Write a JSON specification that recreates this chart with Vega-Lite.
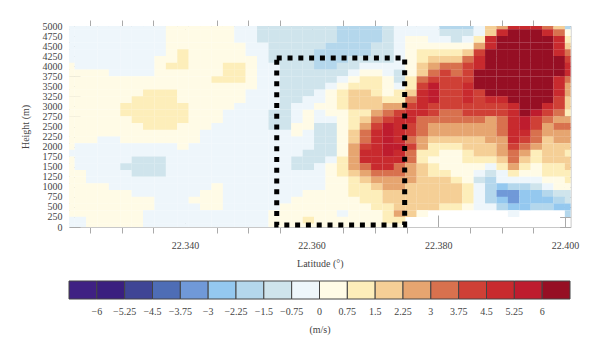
{"$schema":"https://vega.github.io/schema/vega-lite/v6.json","width":501.6,"height":201,"padding":{"left":69,"top":26,"right":29.4,"bottom":127},"autosize":"none",
"config":{"font":"Liberation Serif","view":{"stroke":null},"axis":{"labelFont":"Liberation Serif","titleFont":"Liberation Serif","labelFontSize":10,"titleFontSize":10,"labelColor":"#444","titleColor":"#444","titleFontWeight":"normal","domainColor":"#c8c8c8","tickColor":"#aaa","grid":false,"zindex":1}},
"layer":[
{"data":{"values":[
{"x":22.3217,"y":5000,"v":-0.4},{"x":22.3235,"y":5000,"v":-0.4},{"x":22.3253,"y":5000,"v":-0.4},{"x":22.3271,"y":5000,"v":-0.4},{"x":22.3289,"y":5000,"v":-0.4},{"x":22.3307,"y":5000,"v":-0.4},{"x":22.3325,"y":5000,"v":-0.4},{"x":22.3343,"y":5000,"v":-0.4},{"x":22.3361,"y":5000,"v":-0.4},{"x":22.3379,"y":5000,"v":0.4},{"x":22.3397,"y":5000,"v":0.4},{"x":22.3415,"y":5000,"v":0.4},{"x":22.3433,"y":5000,"v":0.4},{"x":22.3451,"y":5000,"v":0.4},{"x":22.3469,"y":5000,"v":0.4},{"x":22.3487,"y":5000,"v":-0.4},{"x":22.3505,"y":5000,"v":-0.4},{"x":22.3523,"y":5000,"v":-1.1},{"x":22.3541,"y":5000,"v":-1.1},{"x":22.3559,"y":5000,"v":-1.1},{"x":22.3577,"y":5000,"v":-1.1},{"x":22.3595,"y":5000,"v":-1.1},{"x":22.3613,"y":5000,"v":-1.1},{"x":22.3631,"y":5000,"v":-1.1},{"x":22.3649,"y":5000,"v":-1.9},{"x":22.3667,"y":5000,"v":-1.9},{"x":22.3685,"y":5000,"v":-1.9},{"x":22.3703,"y":5000,"v":-1.9},{"x":22.3721,"y":5000,"v":-1.1},{"x":22.3739,"y":5000,"v":-0.4},{"x":22.3757,"y":5000,"v":-0.4},{"x":22.3775,"y":5000,"v":-0.4},{"x":22.3793,"y":5000,"v":-0.4},{"x":22.3811,"y":5000,"v":-1.9},{"x":22.3829,"y":5000,"v":-1.9},{"x":22.3847,"y":5000,"v":-1.9},{"x":22.3865,"y":5000,"v":-0.4},{"x":22.3883,"y":5000,"v":1.9},{"x":22.3901,"y":5000,"v":2.6},{"x":22.3919,"y":5000,"v":4.9},{"x":22.3937,"y":5000,"v":4.9},{"x":22.3955,"y":5000,"v":4.9},{"x":22.3973,"y":5000,"v":3.4},{"x":22.3991,"y":5000,"v":1.9},{"x":22.4009,"y":5000,"v":-1.9},
{"x":22.3217,"y":4833,"v":-0.4},{"x":22.3235,"y":4833,"v":-0.4},{"x":22.3253,"y":4833,"v":-0.4},{"x":22.3271,"y":4833,"v":-0.4},{"x":22.3289,"y":4833,"v":-0.4},{"x":22.3307,"y":4833,"v":-0.4},{"x":22.3325,"y":4833,"v":-0.4},{"x":22.3343,"y":4833,"v":-0.4},{"x":22.3361,"y":4833,"v":-0.4},{"x":22.3379,"y":4833,"v":0.4},{"x":22.3397,"y":4833,"v":0.4},{"x":22.3415,"y":4833,"v":0.4},{"x":22.3433,"y":4833,"v":0.4},{"x":22.3451,"y":4833,"v":0.4},{"x":22.3469,"y":4833,"v":0.4},{"x":22.3487,"y":4833,"v":-0.4},{"x":22.3505,"y":4833,"v":-0.4},{"x":22.3523,"y":4833,"v":-1.1},{"x":22.3541,"y":4833,"v":-1.1},{"x":22.3559,"y":4833,"v":-1.1},{"x":22.3577,"y":4833,"v":-1.1},{"x":22.3595,"y":4833,"v":-1.1},{"x":22.3613,"y":4833,"v":-1.1},{"x":22.3631,"y":4833,"v":-1.1},{"x":22.3649,"y":4833,"v":-1.9},{"x":22.3667,"y":4833,"v":-1.9},{"x":22.3685,"y":4833,"v":-1.9},{"x":22.3703,"y":4833,"v":-1.9},{"x":22.3721,"y":4833,"v":-1.1},{"x":22.3739,"y":4833,"v":-0.4},{"x":22.3757,"y":4833,"v":-0.4},{"x":22.3775,"y":4833,"v":-0.4},{"x":22.3793,"y":4833,"v":-0.4},{"x":22.3811,"y":4833,"v":-1.1},{"x":22.3829,"y":4833,"v":-1.1},{"x":22.3847,"y":4833,"v":-1.1},{"x":22.3865,"y":4833,"v":-0.4},{"x":22.3883,"y":4833,"v":1.9},{"x":22.3901,"y":4833,"v":4.9},{"x":22.3919,"y":4833,"v":6.5},{"x":22.3937,"y":4833,"v":6.5},{"x":22.3955,"y":4833,"v":6.5},{"x":22.3973,"y":4833,"v":4.9},{"x":22.3991,"y":4833,"v":3.4},{"x":22.4009,"y":4833,"v":0.4},
{"x":22.3217,"y":4667,"v":-0.4},{"x":22.3235,"y":4667,"v":-0.4},{"x":22.3253,"y":4667,"v":-0.4},{"x":22.3271,"y":4667,"v":-0.4},{"x":22.3289,"y":4667,"v":-0.4},{"x":22.3307,"y":4667,"v":-0.4},{"x":22.3325,"y":4667,"v":-0.4},{"x":22.3343,"y":4667,"v":-0.4},{"x":22.3361,"y":4667,"v":-0.4},{"x":22.3379,"y":4667,"v":0.4},{"x":22.3397,"y":4667,"v":0.4},{"x":22.3415,"y":4667,"v":0.4},{"x":22.3433,"y":4667,"v":0.4},{"x":22.3451,"y":4667,"v":0.4},{"x":22.3469,"y":4667,"v":0.4},{"x":22.3487,"y":4667,"v":-0.4},{"x":22.3505,"y":4667,"v":-0.4},{"x":22.3523,"y":4667,"v":-1.1},{"x":22.3541,"y":4667,"v":-1.1},{"x":22.3559,"y":4667,"v":-1.1},{"x":22.3577,"y":4667,"v":-1.1},{"x":22.3595,"y":4667,"v":-1.1},{"x":22.3613,"y":4667,"v":-1.1},{"x":22.3631,"y":4667,"v":-1.1},{"x":22.3649,"y":4667,"v":-1.9},{"x":22.3667,"y":4667,"v":-1.9},{"x":22.3685,"y":4667,"v":-1.9},{"x":22.3703,"y":4667,"v":-1.9},{"x":22.3721,"y":4667,"v":-1.1},{"x":22.3739,"y":4667,"v":-0.4},{"x":22.3757,"y":4667,"v":0.4},{"x":22.3775,"y":4667,"v":0.4},{"x":22.3793,"y":4667,"v":-0.4},{"x":22.3811,"y":4667,"v":-0.4},{"x":22.3829,"y":4667,"v":-1.1},{"x":22.3847,"y":4667,"v":-0.4},{"x":22.3865,"y":4667,"v":1.1},{"x":22.3883,"y":4667,"v":4.9},{"x":22.3901,"y":4667,"v":6.5},{"x":22.3919,"y":4667,"v":6.5},{"x":22.3937,"y":4667,"v":6.5},{"x":22.3955,"y":4667,"v":6.5},{"x":22.3973,"y":4667,"v":6.5},{"x":22.3991,"y":4667,"v":4.9},{"x":22.4009,"y":4667,"v":1.1},
{"x":22.3217,"y":4500,"v":-0.4},{"x":22.3235,"y":4500,"v":-0.4},{"x":22.3253,"y":4500,"v":-0.4},{"x":22.3271,"y":4500,"v":-0.4},{"x":22.3289,"y":4500,"v":-0.4},{"x":22.3307,"y":4500,"v":-0.4},{"x":22.3325,"y":4500,"v":-0.4},{"x":22.3343,"y":4500,"v":-0.4},{"x":22.3361,"y":4500,"v":-0.4},{"x":22.3379,"y":4500,"v":0.4},{"x":22.3397,"y":4500,"v":0.4},{"x":22.3415,"y":4500,"v":0.4},{"x":22.3433,"y":4500,"v":0.4},{"x":22.3451,"y":4500,"v":0.4},{"x":22.3469,"y":4500,"v":0.4},{"x":22.3487,"y":4500,"v":0.4},{"x":22.3505,"y":4500,"v":-0.4},{"x":22.3523,"y":4500,"v":-0.4},{"x":22.3541,"y":4500,"v":-1.1},{"x":22.3559,"y":4500,"v":-1.1},{"x":22.3577,"y":4500,"v":-1.1},{"x":22.3595,"y":4500,"v":-1.1},{"x":22.3613,"y":4500,"v":-1.1},{"x":22.3631,"y":4500,"v":-1.9},{"x":22.3649,"y":4500,"v":-1.9},{"x":22.3667,"y":4500,"v":-1.9},{"x":22.3685,"y":4500,"v":-1.9},{"x":22.3703,"y":4500,"v":-1.1},{"x":22.3721,"y":4500,"v":-1.1},{"x":22.3739,"y":4500,"v":-0.4},{"x":22.3757,"y":4500,"v":0.4},{"x":22.3775,"y":4500,"v":0.4},{"x":22.3793,"y":4500,"v":0.4},{"x":22.3811,"y":4500,"v":0.4},{"x":22.3829,"y":4500,"v":0.4},{"x":22.3847,"y":4500,"v":0.4},{"x":22.3865,"y":4500,"v":2.6},{"x":22.3883,"y":4500,"v":4.9},{"x":22.3901,"y":4500,"v":6.5},{"x":22.3919,"y":4500,"v":6.5},{"x":22.3937,"y":4500,"v":6.5},{"x":22.3955,"y":4500,"v":6.5},{"x":22.3973,"y":4500,"v":6.5},{"x":22.3991,"y":4500,"v":4.9},{"x":22.4009,"y":4500,"v":1.9},
{"x":22.3217,"y":4333,"v":-0.4},{"x":22.3235,"y":4333,"v":-0.4},{"x":22.3253,"y":4333,"v":-0.4},{"x":22.3271,"y":4333,"v":-0.4},{"x":22.3289,"y":4333,"v":-0.4},{"x":22.3307,"y":4333,"v":-0.4},{"x":22.3325,"y":4333,"v":-0.4},{"x":22.3343,"y":4333,"v":-0.4},{"x":22.3361,"y":4333,"v":-0.4},{"x":22.3379,"y":4333,"v":0.4},{"x":22.3397,"y":4333,"v":1.1},{"x":22.3415,"y":4333,"v":0.4},{"x":22.3433,"y":4333,"v":0.4},{"x":22.3451,"y":4333,"v":0.4},{"x":22.3469,"y":4333,"v":0.4},{"x":22.3487,"y":4333,"v":0.4},{"x":22.3505,"y":4333,"v":-0.4},{"x":22.3523,"y":4333,"v":-0.4},{"x":22.3541,"y":4333,"v":-1.1},{"x":22.3559,"y":4333,"v":-1.1},{"x":22.3577,"y":4333,"v":-1.1},{"x":22.3595,"y":4333,"v":-1.1},{"x":22.3613,"y":4333,"v":-1.9},{"x":22.3631,"y":4333,"v":-1.9},{"x":22.3649,"y":4333,"v":-1.9},{"x":22.3667,"y":4333,"v":-1.9},{"x":22.3685,"y":4333,"v":-1.9},{"x":22.3703,"y":4333,"v":-1.1},{"x":22.3721,"y":4333,"v":-1.1},{"x":22.3739,"y":4333,"v":-0.4},{"x":22.3757,"y":4333,"v":0.4},{"x":22.3775,"y":4333,"v":1.1},{"x":22.3793,"y":4333,"v":1.1},{"x":22.3811,"y":4333,"v":1.1},{"x":22.3829,"y":4333,"v":1.1},{"x":22.3847,"y":4333,"v":1.9},{"x":22.3865,"y":4333,"v":4.1},{"x":22.3883,"y":4333,"v":6.5},{"x":22.3901,"y":4333,"v":6.5},{"x":22.3919,"y":4333,"v":6.5},{"x":22.3937,"y":4333,"v":6.5},{"x":22.3955,"y":4333,"v":6.5},{"x":22.3973,"y":4333,"v":6.5},{"x":22.3991,"y":4333,"v":4.9},{"x":22.4009,"y":4333,"v":3.4},
{"x":22.3217,"y":4167,"v":-0.4},{"x":22.3235,"y":4167,"v":-0.4},{"x":22.3253,"y":4167,"v":-0.4},{"x":22.3271,"y":4167,"v":-0.4},{"x":22.3289,"y":4167,"v":-0.4},{"x":22.3307,"y":4167,"v":-0.4},{"x":22.3325,"y":4167,"v":-0.4},{"x":22.3343,"y":4167,"v":-0.4},{"x":22.3361,"y":4167,"v":0.4},{"x":22.3379,"y":4167,"v":0.4},{"x":22.3397,"y":4167,"v":1.1},{"x":22.3415,"y":4167,"v":0.4},{"x":22.3433,"y":4167,"v":0.4},{"x":22.3451,"y":4167,"v":0.4},{"x":22.3469,"y":4167,"v":0.4},{"x":22.3487,"y":4167,"v":0.4},{"x":22.3505,"y":4167,"v":0.4},{"x":22.3523,"y":4167,"v":-0.4},{"x":22.3541,"y":4167,"v":-1.1},{"x":22.3559,"y":4167,"v":-1.1},{"x":22.3577,"y":4167,"v":-1.1},{"x":22.3595,"y":4167,"v":-1.1},{"x":22.3613,"y":4167,"v":-1.9},{"x":22.3631,"y":4167,"v":-1.9},{"x":22.3649,"y":4167,"v":-1.9},{"x":22.3667,"y":4167,"v":-1.1},{"x":22.3685,"y":4167,"v":-1.1},{"x":22.3703,"y":4167,"v":-1.1},{"x":22.3721,"y":4167,"v":-1.1},{"x":22.3739,"y":4167,"v":-0.4},{"x":22.3757,"y":4167,"v":0.4},{"x":22.3775,"y":4167,"v":1.1},{"x":22.3793,"y":4167,"v":1.9},{"x":22.3811,"y":4167,"v":1.9},{"x":22.3829,"y":4167,"v":1.9},{"x":22.3847,"y":4167,"v":3.4},{"x":22.3865,"y":4167,"v":4.9},{"x":22.3883,"y":4167,"v":6.5},{"x":22.3901,"y":4167,"v":6.5},{"x":22.3919,"y":4167,"v":6.5},{"x":22.3937,"y":4167,"v":6.5},{"x":22.3955,"y":4167,"v":6.5},{"x":22.3973,"y":4167,"v":6.5},{"x":22.3991,"y":4167,"v":6.5},{"x":22.4009,"y":4167,"v":4.1},
{"x":22.3217,"y":4000,"v":0.4},{"x":22.3235,"y":4000,"v":-0.4},{"x":22.3253,"y":4000,"v":-0.4},{"x":22.3271,"y":4000,"v":-0.4},{"x":22.3289,"y":4000,"v":-0.4},{"x":22.3307,"y":4000,"v":-0.4},{"x":22.3325,"y":4000,"v":-0.4},{"x":22.3343,"y":4000,"v":-0.4},{"x":22.3361,"y":4000,"v":0.4},{"x":22.3379,"y":4000,"v":1.1},{"x":22.3397,"y":4000,"v":1.1},{"x":22.3415,"y":4000,"v":0.4},{"x":22.3433,"y":4000,"v":0.4},{"x":22.3451,"y":4000,"v":0.4},{"x":22.3469,"y":4000,"v":1.1},{"x":22.3487,"y":4000,"v":1.1},{"x":22.3505,"y":4000,"v":0.4},{"x":22.3523,"y":4000,"v":-0.4},{"x":22.3541,"y":4000,"v":-0.4},{"x":22.3559,"y":4000,"v":-1.1},{"x":22.3577,"y":4000,"v":-1.1},{"x":22.3595,"y":4000,"v":-1.1},{"x":22.3613,"y":4000,"v":-1.9},{"x":22.3631,"y":4000,"v":-1.9},{"x":22.3649,"y":4000,"v":-1.1},{"x":22.3667,"y":4000,"v":-1.1},{"x":22.3685,"y":4000,"v":-0.4},{"x":22.3703,"y":4000,"v":-0.4},{"x":22.3721,"y":4000,"v":-0.4},{"x":22.3739,"y":4000,"v":-0.4},{"x":22.3757,"y":4000,"v":0.4},{"x":22.3775,"y":4000,"v":1.9},{"x":22.3793,"y":4000,"v":2.6},{"x":22.3811,"y":4000,"v":3.4},{"x":22.3829,"y":4000,"v":3.4},{"x":22.3847,"y":4000,"v":4.1},{"x":22.3865,"y":4000,"v":4.9},{"x":22.3883,"y":4000,"v":6.5},{"x":22.3901,"y":4000,"v":6.5},{"x":22.3919,"y":4000,"v":6.5},{"x":22.3937,"y":4000,"v":6.5},{"x":22.3955,"y":4000,"v":6.5},{"x":22.3973,"y":4000,"v":6.5},{"x":22.3991,"y":4000,"v":6.5},{"x":22.4009,"y":4000,"v":4.9},
{"x":22.3217,"y":3833,"v":0.4},{"x":22.3235,"y":3833,"v":0.4},{"x":22.3253,"y":3833,"v":0.4},{"x":22.3271,"y":3833,"v":0.4},{"x":22.3289,"y":3833,"v":-0.4},{"x":22.3307,"y":3833,"v":-0.4},{"x":22.3325,"y":3833,"v":-0.4},{"x":22.3343,"y":3833,"v":-0.4},{"x":22.3361,"y":3833,"v":0.4},{"x":22.3379,"y":3833,"v":0.4},{"x":22.3397,"y":3833,"v":0.4},{"x":22.3415,"y":3833,"v":0.4},{"x":22.3433,"y":3833,"v":0.4},{"x":22.3451,"y":3833,"v":0.4},{"x":22.3469,"y":3833,"v":1.1},{"x":22.3487,"y":3833,"v":1.1},{"x":22.3505,"y":3833,"v":0.4},{"x":22.3523,"y":3833,"v":-0.4},{"x":22.3541,"y":3833,"v":-0.4},{"x":22.3559,"y":3833,"v":-1.1},{"x":22.3577,"y":3833,"v":-1.1},{"x":22.3595,"y":3833,"v":-1.1},{"x":22.3613,"y":3833,"v":-1.1},{"x":22.3631,"y":3833,"v":-1.1},{"x":22.3649,"y":3833,"v":-1.1},{"x":22.3667,"y":3833,"v":-0.4},{"x":22.3685,"y":3833,"v":0.4},{"x":22.3703,"y":3833,"v":0.4},{"x":22.3721,"y":3833,"v":-0.4},{"x":22.3739,"y":3833,"v":-1.1},{"x":22.3757,"y":3833,"v":0.4},{"x":22.3775,"y":3833,"v":1.9},{"x":22.3793,"y":3833,"v":3.4},{"x":22.3811,"y":3833,"v":4.1},{"x":22.3829,"y":3833,"v":3.4},{"x":22.3847,"y":3833,"v":4.1},{"x":22.3865,"y":3833,"v":6.5},{"x":22.3883,"y":3833,"v":6.5},{"x":22.3901,"y":3833,"v":6.5},{"x":22.3919,"y":3833,"v":6.5},{"x":22.3937,"y":3833,"v":6.5},{"x":22.3955,"y":3833,"v":6.5},{"x":22.3973,"y":3833,"v":6.5},{"x":22.3991,"y":3833,"v":6.5},{"x":22.4009,"y":3833,"v":4.9},
{"x":22.3217,"y":3667,"v":0.4},{"x":22.3235,"y":3667,"v":0.4},{"x":22.3253,"y":3667,"v":0.4},{"x":22.3271,"y":3667,"v":0.4},{"x":22.3289,"y":3667,"v":0.4},{"x":22.3307,"y":3667,"v":0.4},{"x":22.3325,"y":3667,"v":0.4},{"x":22.3343,"y":3667,"v":0.4},{"x":22.3361,"y":3667,"v":0.4},{"x":22.3379,"y":3667,"v":0.4},{"x":22.3397,"y":3667,"v":0.4},{"x":22.3415,"y":3667,"v":0.4},{"x":22.3433,"y":3667,"v":0.4},{"x":22.3451,"y":3667,"v":1.1},{"x":22.3469,"y":3667,"v":1.1},{"x":22.3487,"y":3667,"v":1.1},{"x":22.3505,"y":3667,"v":0.4},{"x":22.3523,"y":3667,"v":-0.4},{"x":22.3541,"y":3667,"v":-0.4},{"x":22.3559,"y":3667,"v":-1.1},{"x":22.3577,"y":3667,"v":-1.1},{"x":22.3595,"y":3667,"v":-1.1},{"x":22.3613,"y":3667,"v":-1.1},{"x":22.3631,"y":3667,"v":-1.1},{"x":22.3649,"y":3667,"v":-0.4},{"x":22.3667,"y":3667,"v":0.4},{"x":22.3685,"y":3667,"v":1.1},{"x":22.3703,"y":3667,"v":1.1},{"x":22.3721,"y":3667,"v":0.4},{"x":22.3739,"y":3667,"v":-1.1},{"x":22.3757,"y":3667,"v":1.1},{"x":22.3775,"y":3667,"v":3.4},{"x":22.3793,"y":3667,"v":4.1},{"x":22.3811,"y":3667,"v":4.1},{"x":22.3829,"y":3667,"v":4.1},{"x":22.3847,"y":3667,"v":4.1},{"x":22.3865,"y":3667,"v":6.5},{"x":22.3883,"y":3667,"v":6.5},{"x":22.3901,"y":3667,"v":6.5},{"x":22.3919,"y":3667,"v":6.5},{"x":22.3937,"y":3667,"v":6.5},{"x":22.3955,"y":3667,"v":6.5},{"x":22.3973,"y":3667,"v":6.5},{"x":22.3991,"y":3667,"v":4.9},{"x":22.4009,"y":3667,"v":3.4},
{"x":22.3217,"y":3500,"v":0.4},{"x":22.3235,"y":3500,"v":0.4},{"x":22.3253,"y":3500,"v":0.4},{"x":22.3271,"y":3500,"v":0.4},{"x":22.3289,"y":3500,"v":0.4},{"x":22.3307,"y":3500,"v":0.4},{"x":22.3325,"y":3500,"v":0.4},{"x":22.3343,"y":3500,"v":0.4},{"x":22.3361,"y":3500,"v":0.4},{"x":22.3379,"y":3500,"v":0.4},{"x":22.3397,"y":3500,"v":0.4},{"x":22.3415,"y":3500,"v":0.4},{"x":22.3433,"y":3500,"v":0.4},{"x":22.3451,"y":3500,"v":0.4},{"x":22.3469,"y":3500,"v":0.4},{"x":22.3487,"y":3500,"v":0.4},{"x":22.3505,"y":3500,"v":0.4},{"x":22.3523,"y":3500,"v":-0.4},{"x":22.3541,"y":3500,"v":-0.4},{"x":22.3559,"y":3500,"v":-1.1},{"x":22.3577,"y":3500,"v":-1.1},{"x":22.3595,"y":3500,"v":-1.1},{"x":22.3613,"y":3500,"v":-1.1},{"x":22.3631,"y":3500,"v":-0.4},{"x":22.3649,"y":3500,"v":0.4},{"x":22.3667,"y":3500,"v":1.1},{"x":22.3685,"y":3500,"v":1.1},{"x":22.3703,"y":3500,"v":1.1},{"x":22.3721,"y":3500,"v":0.4},{"x":22.3739,"y":3500,"v":-0.4},{"x":22.3757,"y":3500,"v":1.1},{"x":22.3775,"y":3500,"v":4.1},{"x":22.3793,"y":3500,"v":5.6},{"x":22.3811,"y":3500,"v":4.1},{"x":22.3829,"y":3500,"v":4.1},{"x":22.3847,"y":3500,"v":4.9},{"x":22.3865,"y":3500,"v":6.5},{"x":22.3883,"y":3500,"v":6.5},{"x":22.3901,"y":3500,"v":6.5},{"x":22.3919,"y":3500,"v":6.5},{"x":22.3937,"y":3500,"v":6.5},{"x":22.3955,"y":3500,"v":6.5},{"x":22.3973,"y":3500,"v":6.5},{"x":22.3991,"y":3500,"v":4.9},{"x":22.4009,"y":3500,"v":2.6},
{"x":22.3217,"y":3333,"v":0.4},{"x":22.3235,"y":3333,"v":0.4},{"x":22.3253,"y":3333,"v":0.4},{"x":22.3271,"y":3333,"v":0.4},{"x":22.3289,"y":3333,"v":0.4},{"x":22.3307,"y":3333,"v":0.4},{"x":22.3325,"y":3333,"v":0.4},{"x":22.3343,"y":3333,"v":1.1},{"x":22.3361,"y":3333,"v":1.1},{"x":22.3379,"y":3333,"v":1.1},{"x":22.3397,"y":3333,"v":0.4},{"x":22.3415,"y":3333,"v":0.4},{"x":22.3433,"y":3333,"v":0.4},{"x":22.3451,"y":3333,"v":0.4},{"x":22.3469,"y":3333,"v":0.4},{"x":22.3487,"y":3333,"v":0.4},{"x":22.3505,"y":3333,"v":-0.4},{"x":22.3523,"y":3333,"v":-0.4},{"x":22.3541,"y":3333,"v":-0.4},{"x":22.3559,"y":3333,"v":-1.1},{"x":22.3577,"y":3333,"v":-1.1},{"x":22.3595,"y":3333,"v":-1.1},{"x":22.3613,"y":3333,"v":-0.4},{"x":22.3631,"y":3333,"v":0.4},{"x":22.3649,"y":3333,"v":1.1},{"x":22.3667,"y":3333,"v":1.9},{"x":22.3685,"y":3333,"v":1.9},{"x":22.3703,"y":3333,"v":1.1},{"x":22.3721,"y":3333,"v":0.4},{"x":22.3739,"y":3333,"v":1.1},{"x":22.3757,"y":3333,"v":1.9},{"x":22.3775,"y":3333,"v":4.9},{"x":22.3793,"y":3333,"v":5.6},{"x":22.3811,"y":3333,"v":4.1},{"x":22.3829,"y":3333,"v":4.1},{"x":22.3847,"y":3333,"v":4.9},{"x":22.3865,"y":3333,"v":4.1},{"x":22.3883,"y":3333,"v":6.5},{"x":22.3901,"y":3333,"v":6.5},{"x":22.3919,"y":3333,"v":6.5},{"x":22.3937,"y":3333,"v":6.5},{"x":22.3955,"y":3333,"v":6.5},{"x":22.3973,"y":3333,"v":6.5},{"x":22.3991,"y":3333,"v":4.9},{"x":22.4009,"y":3333,"v":2.6},
{"x":22.3217,"y":3167,"v":0.4},{"x":22.3235,"y":3167,"v":0.4},{"x":22.3253,"y":3167,"v":0.4},{"x":22.3271,"y":3167,"v":0.4},{"x":22.3289,"y":3167,"v":0.4},{"x":22.3307,"y":3167,"v":0.4},{"x":22.3325,"y":3167,"v":1.1},{"x":22.3343,"y":3167,"v":1.1},{"x":22.3361,"y":3167,"v":1.1},{"x":22.3379,"y":3167,"v":1.1},{"x":22.3397,"y":3167,"v":0.4},{"x":22.3415,"y":3167,"v":0.4},{"x":22.3433,"y":3167,"v":0.4},{"x":22.3451,"y":3167,"v":0.4},{"x":22.3469,"y":3167,"v":0.4},{"x":22.3487,"y":3167,"v":0.4},{"x":22.3505,"y":3167,"v":-0.4},{"x":22.3523,"y":3167,"v":-0.4},{"x":22.3541,"y":3167,"v":-0.4},{"x":22.3559,"y":3167,"v":-1.1},{"x":22.3577,"y":3167,"v":-1.1},{"x":22.3595,"y":3167,"v":-0.4},{"x":22.3613,"y":3167,"v":-0.4},{"x":22.3631,"y":3167,"v":0.4},{"x":22.3649,"y":3167,"v":1.1},{"x":22.3667,"y":3167,"v":1.9},{"x":22.3685,"y":3167,"v":1.9},{"x":22.3703,"y":3167,"v":1.9},{"x":22.3721,"y":3167,"v":1.1},{"x":22.3739,"y":3167,"v":1.1},{"x":22.3757,"y":3167,"v":3.4},{"x":22.3775,"y":3167,"v":4.9},{"x":22.3793,"y":3167,"v":5.6},{"x":22.3811,"y":3167,"v":4.1},{"x":22.3829,"y":3167,"v":4.1},{"x":22.3847,"y":3167,"v":4.9},{"x":22.3865,"y":3167,"v":4.1},{"x":22.3883,"y":3167,"v":4.9},{"x":22.3901,"y":3167,"v":4.9},{"x":22.3919,"y":3167,"v":6.5},{"x":22.3937,"y":3167,"v":6.5},{"x":22.3955,"y":3167,"v":6.5},{"x":22.3973,"y":3167,"v":6.5},{"x":22.3991,"y":3167,"v":4.1},{"x":22.4009,"y":3167,"v":1.9},
{"x":22.3217,"y":3000,"v":0.4},{"x":22.3235,"y":3000,"v":0.4},{"x":22.3253,"y":3000,"v":0.4},{"x":22.3271,"y":3000,"v":0.4},{"x":22.3289,"y":3000,"v":0.4},{"x":22.3307,"y":3000,"v":1.1},{"x":22.3325,"y":3000,"v":1.1},{"x":22.3343,"y":3000,"v":1.1},{"x":22.3361,"y":3000,"v":1.1},{"x":22.3379,"y":3000,"v":1.1},{"x":22.3397,"y":3000,"v":1.1},{"x":22.3415,"y":3000,"v":0.4},{"x":22.3433,"y":3000,"v":0.4},{"x":22.3451,"y":3000,"v":0.4},{"x":22.3469,"y":3000,"v":0.4},{"x":22.3487,"y":3000,"v":-0.4},{"x":22.3505,"y":3000,"v":-0.4},{"x":22.3523,"y":3000,"v":-0.4},{"x":22.3541,"y":3000,"v":-0.4},{"x":22.3559,"y":3000,"v":-1.1},{"x":22.3577,"y":3000,"v":-0.4},{"x":22.3595,"y":3000,"v":-0.4},{"x":22.3613,"y":3000,"v":0.4},{"x":22.3631,"y":3000,"v":0.4},{"x":22.3649,"y":3000,"v":1.1},{"x":22.3667,"y":3000,"v":1.9},{"x":22.3685,"y":3000,"v":1.9},{"x":22.3703,"y":3000,"v":1.9},{"x":22.3721,"y":3000,"v":2.6},{"x":22.3739,"y":3000,"v":2.6},{"x":22.3757,"y":3000,"v":4.1},{"x":22.3775,"y":3000,"v":4.9},{"x":22.3793,"y":3000,"v":4.1},{"x":22.3811,"y":3000,"v":4.1},{"x":22.3829,"y":3000,"v":4.1},{"x":22.3847,"y":3000,"v":4.1},{"x":22.3865,"y":3000,"v":4.1},{"x":22.3883,"y":3000,"v":4.1},{"x":22.3901,"y":3000,"v":4.1},{"x":22.3919,"y":3000,"v":4.9},{"x":22.3937,"y":3000,"v":6.5},{"x":22.3955,"y":3000,"v":6.5},{"x":22.3973,"y":3000,"v":4.9},{"x":22.3991,"y":3000,"v":4.1},{"x":22.4009,"y":3000,"v":1.9},
{"x":22.3217,"y":2833,"v":0.4},{"x":22.3235,"y":2833,"v":0.4},{"x":22.3253,"y":2833,"v":0.4},{"x":22.3271,"y":2833,"v":0.4},{"x":22.3289,"y":2833,"v":0.4},{"x":22.3307,"y":2833,"v":1.1},{"x":22.3325,"y":2833,"v":1.1},{"x":22.3343,"y":2833,"v":1.1},{"x":22.3361,"y":2833,"v":1.1},{"x":22.3379,"y":2833,"v":1.1},{"x":22.3397,"y":2833,"v":1.1},{"x":22.3415,"y":2833,"v":0.4},{"x":22.3433,"y":2833,"v":0.4},{"x":22.3451,"y":2833,"v":0.4},{"x":22.3469,"y":2833,"v":-0.4},{"x":22.3487,"y":2833,"v":-0.4},{"x":22.3505,"y":2833,"v":-0.4},{"x":22.3523,"y":2833,"v":-0.4},{"x":22.3541,"y":2833,"v":-1.1},{"x":22.3559,"y":2833,"v":-1.1},{"x":22.3577,"y":2833,"v":-0.4},{"x":22.3595,"y":2833,"v":0.4},{"x":22.3613,"y":2833,"v":-0.4},{"x":22.3631,"y":2833,"v":0.4},{"x":22.3649,"y":2833,"v":0.4},{"x":22.3667,"y":2833,"v":1.1},{"x":22.3685,"y":2833,"v":1.1},{"x":22.3703,"y":2833,"v":2.6},{"x":22.3721,"y":2833,"v":3.4},{"x":22.3739,"y":2833,"v":4.1},{"x":22.3757,"y":2833,"v":4.9},{"x":22.3775,"y":2833,"v":4.9},{"x":22.3793,"y":2833,"v":4.1},{"x":22.3811,"y":2833,"v":3.4},{"x":22.3829,"y":2833,"v":3.4},{"x":22.3847,"y":2833,"v":4.1},{"x":22.3865,"y":2833,"v":4.1},{"x":22.3883,"y":2833,"v":4.1},{"x":22.3901,"y":2833,"v":4.1},{"x":22.3919,"y":2833,"v":4.9},{"x":22.3937,"y":2833,"v":6.5},{"x":22.3955,"y":2833,"v":5.6},{"x":22.3973,"y":2833,"v":4.1},{"x":22.3991,"y":2833,"v":3.4},{"x":22.4009,"y":2833,"v":1.1},
{"x":22.3217,"y":2667,"v":0.4},{"x":22.3235,"y":2667,"v":0.4},{"x":22.3253,"y":2667,"v":0.4},{"x":22.3271,"y":2667,"v":0.4},{"x":22.3289,"y":2667,"v":0.4},{"x":22.3307,"y":2667,"v":0.4},{"x":22.3325,"y":2667,"v":1.1},{"x":22.3343,"y":2667,"v":1.1},{"x":22.3361,"y":2667,"v":1.1},{"x":22.3379,"y":2667,"v":1.1},{"x":22.3397,"y":2667,"v":1.1},{"x":22.3415,"y":2667,"v":0.4},{"x":22.3433,"y":2667,"v":0.4},{"x":22.3451,"y":2667,"v":0.4},{"x":22.3469,"y":2667,"v":-0.4},{"x":22.3487,"y":2667,"v":-0.4},{"x":22.3505,"y":2667,"v":-0.4},{"x":22.3523,"y":2667,"v":-0.4},{"x":22.3541,"y":2667,"v":-1.1},{"x":22.3559,"y":2667,"v":-1.1},{"x":22.3577,"y":2667,"v":-0.4},{"x":22.3595,"y":2667,"v":0.4},{"x":22.3613,"y":2667,"v":-0.4},{"x":22.3631,"y":2667,"v":-0.4},{"x":22.3649,"y":2667,"v":0.4},{"x":22.3667,"y":2667,"v":1.1},{"x":22.3685,"y":2667,"v":1.9},{"x":22.3703,"y":2667,"v":3.4},{"x":22.3721,"y":2667,"v":4.1},{"x":22.3739,"y":2667,"v":4.9},{"x":22.3757,"y":2667,"v":4.9},{"x":22.3775,"y":2667,"v":3.4},{"x":22.3793,"y":2667,"v":3.4},{"x":22.3811,"y":2667,"v":3.4},{"x":22.3829,"y":2667,"v":3.4},{"x":22.3847,"y":2667,"v":3.4},{"x":22.3865,"y":2667,"v":3.4},{"x":22.3883,"y":2667,"v":2.6},{"x":22.3901,"y":2667,"v":3.4},{"x":22.3919,"y":2667,"v":4.9},{"x":22.3937,"y":2667,"v":5.6},{"x":22.3955,"y":2667,"v":4.1},{"x":22.3973,"y":2667,"v":3.4},{"x":22.3991,"y":2667,"v":2.6},{"x":22.4009,"y":2667,"v":2.6},
{"x":22.3217,"y":2500,"v":0.4},{"x":22.3235,"y":2500,"v":0.4},{"x":22.3253,"y":2500,"v":0.4},{"x":22.3271,"y":2500,"v":0.4},{"x":22.3289,"y":2500,"v":0.4},{"x":22.3307,"y":2500,"v":0.4},{"x":22.3325,"y":2500,"v":0.4},{"x":22.3343,"y":2500,"v":1.1},{"x":22.3361,"y":2500,"v":1.1},{"x":22.3379,"y":2500,"v":1.1},{"x":22.3397,"y":2500,"v":0.4},{"x":22.3415,"y":2500,"v":0.4},{"x":22.3433,"y":2500,"v":0.4},{"x":22.3451,"y":2500,"v":-0.4},{"x":22.3469,"y":2500,"v":-0.4},{"x":22.3487,"y":2500,"v":-0.4},{"x":22.3505,"y":2500,"v":-0.4},{"x":22.3523,"y":2500,"v":-0.4},{"x":22.3541,"y":2500,"v":-1.1},{"x":22.3559,"y":2500,"v":-1.1},{"x":22.3577,"y":2500,"v":0.4},{"x":22.3595,"y":2500,"v":0.4},{"x":22.3613,"y":2500,"v":-1.1},{"x":22.3631,"y":2500,"v":-1.1},{"x":22.3649,"y":2500,"v":0.4},{"x":22.3667,"y":2500,"v":1.1},{"x":22.3685,"y":2500,"v":2.6},{"x":22.3703,"y":2500,"v":4.1},{"x":22.3721,"y":2500,"v":5.6},{"x":22.3739,"y":2500,"v":4.9},{"x":22.3757,"y":2500,"v":4.1},{"x":22.3775,"y":2500,"v":3.4},{"x":22.3793,"y":2500,"v":2.6},{"x":22.3811,"y":2500,"v":2.6},{"x":22.3829,"y":2500,"v":2.6},{"x":22.3847,"y":2500,"v":2.6},{"x":22.3865,"y":2500,"v":2.6},{"x":22.3883,"y":2500,"v":2.6},{"x":22.3901,"y":2500,"v":3.4},{"x":22.3919,"y":2500,"v":4.9},{"x":22.3937,"y":2500,"v":5.6},{"x":22.3955,"y":2500,"v":4.1},{"x":22.3973,"y":2500,"v":2.6},{"x":22.3991,"y":2500,"v":3.4},{"x":22.4009,"y":2500,"v":3.4},
{"x":22.3217,"y":2333,"v":0.4},{"x":22.3235,"y":2333,"v":0.4},{"x":22.3253,"y":2333,"v":0.4},{"x":22.3271,"y":2333,"v":0.4},{"x":22.3289,"y":2333,"v":0.4},{"x":22.3307,"y":2333,"v":0.4},{"x":22.3325,"y":2333,"v":0.4},{"x":22.3343,"y":2333,"v":0.4},{"x":22.3361,"y":2333,"v":0.4},{"x":22.3379,"y":2333,"v":0.4},{"x":22.3397,"y":2333,"v":0.4},{"x":22.3415,"y":2333,"v":0.4},{"x":22.3433,"y":2333,"v":-0.4},{"x":22.3451,"y":2333,"v":-0.4},{"x":22.3469,"y":2333,"v":-0.4},{"x":22.3487,"y":2333,"v":-0.4},{"x":22.3505,"y":2333,"v":-0.4},{"x":22.3523,"y":2333,"v":-0.4},{"x":22.3541,"y":2333,"v":-0.4},{"x":22.3559,"y":2333,"v":-0.4},{"x":22.3577,"y":2333,"v":0.4},{"x":22.3595,"y":2333,"v":-0.4},{"x":22.3613,"y":2333,"v":-1.1},{"x":22.3631,"y":2333,"v":-1.1},{"x":22.3649,"y":2333,"v":0.4},{"x":22.3667,"y":2333,"v":1.9},{"x":22.3685,"y":2333,"v":3.4},{"x":22.3703,"y":2333,"v":4.9},{"x":22.3721,"y":2333,"v":5.6},{"x":22.3739,"y":2333,"v":4.9},{"x":22.3757,"y":2333,"v":4.1},{"x":22.3775,"y":2333,"v":3.4},{"x":22.3793,"y":2333,"v":2.6},{"x":22.3811,"y":2333,"v":2.6},{"x":22.3829,"y":2333,"v":2.6},{"x":22.3847,"y":2333,"v":2.6},{"x":22.3865,"y":2333,"v":2.6},{"x":22.3883,"y":2333,"v":2.6},{"x":22.3901,"y":2333,"v":3.4},{"x":22.3919,"y":2333,"v":4.9},{"x":22.3937,"y":2333,"v":4.9},{"x":22.3955,"y":2333,"v":3.4},{"x":22.3973,"y":2333,"v":2.6},{"x":22.3991,"y":2333,"v":2.6},{"x":22.4009,"y":2333,"v":2.6},
{"x":22.3217,"y":2167,"v":0.4},{"x":22.3235,"y":2167,"v":0.4},{"x":22.3253,"y":2167,"v":0.4},{"x":22.3271,"y":2167,"v":-0.4},{"x":22.3289,"y":2167,"v":-0.4},{"x":22.3307,"y":2167,"v":0.4},{"x":22.3325,"y":2167,"v":0.4},{"x":22.3343,"y":2167,"v":0.4},{"x":22.3361,"y":2167,"v":0.4},{"x":22.3379,"y":2167,"v":0.4},{"x":22.3397,"y":2167,"v":0.4},{"x":22.3415,"y":2167,"v":0.4},{"x":22.3433,"y":2167,"v":-0.4},{"x":22.3451,"y":2167,"v":-0.4},{"x":22.3469,"y":2167,"v":-0.4},{"x":22.3487,"y":2167,"v":-0.4},{"x":22.3505,"y":2167,"v":-0.4},{"x":22.3523,"y":2167,"v":-0.4},{"x":22.3541,"y":2167,"v":-0.4},{"x":22.3559,"y":2167,"v":-0.4},{"x":22.3577,"y":2167,"v":-0.4},{"x":22.3595,"y":2167,"v":-0.4},{"x":22.3613,"y":2167,"v":-1.1},{"x":22.3631,"y":2167,"v":-1.1},{"x":22.3649,"y":2167,"v":0.4},{"x":22.3667,"y":2167,"v":1.9},{"x":22.3685,"y":2167,"v":3.4},{"x":22.3703,"y":2167,"v":4.9},{"x":22.3721,"y":2167,"v":5.6},{"x":22.3739,"y":2167,"v":4.9},{"x":22.3757,"y":2167,"v":3.4},{"x":22.3775,"y":2167,"v":2.6},{"x":22.3793,"y":2167,"v":1.9},{"x":22.3811,"y":2167,"v":1.9},{"x":22.3829,"y":2167,"v":1.9},{"x":22.3847,"y":2167,"v":1.9},{"x":22.3865,"y":2167,"v":1.9},{"x":22.3883,"y":2167,"v":2.6},{"x":22.3901,"y":2167,"v":2.6},{"x":22.3919,"y":2167,"v":4.9},{"x":22.3937,"y":2167,"v":4.1},{"x":22.3955,"y":2167,"v":3.4},{"x":22.3973,"y":2167,"v":1.9},{"x":22.3991,"y":2167,"v":2.6},{"x":22.4009,"y":2167,"v":2.6},
{"x":22.3217,"y":2000,"v":0.4},{"x":22.3235,"y":2000,"v":-0.4},{"x":22.3253,"y":2000,"v":-0.4},{"x":22.3271,"y":2000,"v":-0.4},{"x":22.3289,"y":2000,"v":-0.4},{"x":22.3307,"y":2000,"v":-0.4},{"x":22.3325,"y":2000,"v":-0.4},{"x":22.3343,"y":2000,"v":-0.4},{"x":22.3361,"y":2000,"v":-0.4},{"x":22.3379,"y":2000,"v":-0.4},{"x":22.3397,"y":2000,"v":0.4},{"x":22.3415,"y":2000,"v":-0.4},{"x":22.3433,"y":2000,"v":-0.4},{"x":22.3451,"y":2000,"v":-0.4},{"x":22.3469,"y":2000,"v":-0.4},{"x":22.3487,"y":2000,"v":-0.4},{"x":22.3505,"y":2000,"v":-0.4},{"x":22.3523,"y":2000,"v":-0.4},{"x":22.3541,"y":2000,"v":-0.4},{"x":22.3559,"y":2000,"v":-0.4},{"x":22.3577,"y":2000,"v":-0.4},{"x":22.3595,"y":2000,"v":-0.4},{"x":22.3613,"y":2000,"v":-1.1},{"x":22.3631,"y":2000,"v":-1.1},{"x":22.3649,"y":2000,"v":0.4},{"x":22.3667,"y":2000,"v":2.6},{"x":22.3685,"y":2000,"v":4.1},{"x":22.3703,"y":2000,"v":4.9},{"x":22.3721,"y":2000,"v":5.6},{"x":22.3739,"y":2000,"v":5.6},{"x":22.3757,"y":2000,"v":4.1},{"x":22.3775,"y":2000,"v":2.6},{"x":22.3793,"y":2000,"v":1.1},{"x":22.3811,"y":2000,"v":1.1},{"x":22.3829,"y":2000,"v":1.1},{"x":22.3847,"y":2000,"v":1.9},{"x":22.3865,"y":2000,"v":1.9},{"x":22.3883,"y":2000,"v":1.9},{"x":22.3901,"y":2000,"v":2.6},{"x":22.3919,"y":2000,"v":4.1},{"x":22.3937,"y":2000,"v":3.4},{"x":22.3955,"y":2000,"v":2.6},{"x":22.3973,"y":2000,"v":1.9},{"x":22.3991,"y":2000,"v":1.9},{"x":22.4009,"y":2000,"v":1.9},
{"x":22.3217,"y":1833,"v":-0.4},{"x":22.3235,"y":1833,"v":-0.4},{"x":22.3253,"y":1833,"v":-0.4},{"x":22.3271,"y":1833,"v":-0.4},{"x":22.3289,"y":1833,"v":-0.4},{"x":22.3307,"y":1833,"v":-0.4},{"x":22.3325,"y":1833,"v":-0.4},{"x":22.3343,"y":1833,"v":-0.4},{"x":22.3361,"y":1833,"v":-0.4},{"x":22.3379,"y":1833,"v":-0.4},{"x":22.3397,"y":1833,"v":-0.4},{"x":22.3415,"y":1833,"v":-0.4},{"x":22.3433,"y":1833,"v":-0.4},{"x":22.3451,"y":1833,"v":-0.4},{"x":22.3469,"y":1833,"v":-0.4},{"x":22.3487,"y":1833,"v":-0.4},{"x":22.3505,"y":1833,"v":-0.4},{"x":22.3523,"y":1833,"v":-0.4},{"x":22.3541,"y":1833,"v":-0.4},{"x":22.3559,"y":1833,"v":-0.4},{"x":22.3577,"y":1833,"v":-0.4},{"x":22.3595,"y":1833,"v":-1.1},{"x":22.3613,"y":1833,"v":-1.1},{"x":22.3631,"y":1833,"v":-1.1},{"x":22.3649,"y":1833,"v":0.4},{"x":22.3667,"y":1833,"v":2.6},{"x":22.3685,"y":1833,"v":4.9},{"x":22.3703,"y":1833,"v":4.9},{"x":22.3721,"y":1833,"v":5.6},{"x":22.3739,"y":1833,"v":4.9},{"x":22.3757,"y":1833,"v":3.4},{"x":22.3775,"y":1833,"v":1.1},{"x":22.3793,"y":1833,"v":1.1},{"x":22.3811,"y":1833,"v":0.4},{"x":22.3829,"y":1833,"v":0.4},{"x":22.3847,"y":1833,"v":1.1},{"x":22.3865,"y":1833,"v":1.9},{"x":22.3883,"y":1833,"v":1.9},{"x":22.3901,"y":1833,"v":2.6},{"x":22.3919,"y":1833,"v":3.4},{"x":22.3937,"y":1833,"v":2.6},{"x":22.3955,"y":1833,"v":1.1},{"x":22.3973,"y":1833,"v":1.9},{"x":22.3991,"y":1833,"v":1.9},{"x":22.4009,"y":1833,"v":1.1},
{"x":22.3217,"y":1667,"v":0.4},{"x":22.3235,"y":1667,"v":-0.4},{"x":22.3253,"y":1667,"v":-0.4},{"x":22.3271,"y":1667,"v":-0.4},{"x":22.3289,"y":1667,"v":-0.4},{"x":22.3307,"y":1667,"v":-0.4},{"x":22.3325,"y":1667,"v":-1.1},{"x":22.3343,"y":1667,"v":-1.1},{"x":22.3361,"y":1667,"v":-1.1},{"x":22.3379,"y":1667,"v":-0.4},{"x":22.3397,"y":1667,"v":-0.4},{"x":22.3415,"y":1667,"v":-0.4},{"x":22.3433,"y":1667,"v":-0.4},{"x":22.3451,"y":1667,"v":-0.4},{"x":22.3469,"y":1667,"v":-0.4},{"x":22.3487,"y":1667,"v":-0.4},{"x":22.3505,"y":1667,"v":-0.4},{"x":22.3523,"y":1667,"v":-0.4},{"x":22.3541,"y":1667,"v":-0.4},{"x":22.3559,"y":1667,"v":-0.4},{"x":22.3577,"y":1667,"v":-1.1},{"x":22.3595,"y":1667,"v":-1.1},{"x":22.3613,"y":1667,"v":-1.1},{"x":22.3631,"y":1667,"v":-0.4},{"x":22.3649,"y":1667,"v":1.1},{"x":22.3667,"y":1667,"v":2.6},{"x":22.3685,"y":1667,"v":4.9},{"x":22.3703,"y":1667,"v":4.9},{"x":22.3721,"y":1667,"v":4.9},{"x":22.3739,"y":1667,"v":4.9},{"x":22.3757,"y":1667,"v":3.4},{"x":22.3775,"y":1667,"v":1.1},{"x":22.3793,"y":1667,"v":0.4},{"x":22.3811,"y":1667,"v":0.4},{"x":22.3829,"y":1667,"v":0.4},{"x":22.3847,"y":1667,"v":1.1},{"x":22.3865,"y":1667,"v":1.1},{"x":22.3883,"y":1667,"v":1.1},{"x":22.3901,"y":1667,"v":1.9},{"x":22.3919,"y":1667,"v":3.4},{"x":22.3937,"y":1667,"v":1.9},{"x":22.3955,"y":1667,"v":1.1},{"x":22.3973,"y":1667,"v":1.9},{"x":22.3991,"y":1667,"v":1.9},{"x":22.4009,"y":1667,"v":1.9},
{"x":22.3217,"y":1500,"v":0.4},{"x":22.3235,"y":1500,"v":-0.4},{"x":22.3253,"y":1500,"v":-0.4},{"x":22.3271,"y":1500,"v":-0.4},{"x":22.3289,"y":1500,"v":-0.4},{"x":22.3307,"y":1500,"v":-1.1},{"x":22.3325,"y":1500,"v":-1.1},{"x":22.3343,"y":1500,"v":-1.1},{"x":22.3361,"y":1500,"v":-1.1},{"x":22.3379,"y":1500,"v":-0.4},{"x":22.3397,"y":1500,"v":-0.4},{"x":22.3415,"y":1500,"v":-0.4},{"x":22.3433,"y":1500,"v":-0.4},{"x":22.3451,"y":1500,"v":-0.4},{"x":22.3469,"y":1500,"v":-0.4},{"x":22.3487,"y":1500,"v":-0.4},{"x":22.3505,"y":1500,"v":-0.4},{"x":22.3523,"y":1500,"v":-0.4},{"x":22.3541,"y":1500,"v":-0.4},{"x":22.3559,"y":1500,"v":-0.4},{"x":22.3577,"y":1500,"v":-1.1},{"x":22.3595,"y":1500,"v":-1.1},{"x":22.3613,"y":1500,"v":-0.4},{"x":22.3631,"y":1500,"v":0.4},{"x":22.3649,"y":1500,"v":1.1},{"x":22.3667,"y":1500,"v":2.6},{"x":22.3685,"y":1500,"v":3.4},{"x":22.3703,"y":1500,"v":4.9},{"x":22.3721,"y":1500,"v":4.9},{"x":22.3739,"y":1500,"v":3.4},{"x":22.3757,"y":1500,"v":2.6},{"x":22.3775,"y":1500,"v":1.9},{"x":22.3793,"y":1500,"v":1.1},{"x":22.3811,"y":1500,"v":0.4},{"x":22.3829,"y":1500,"v":0.4},{"x":22.3847,"y":1500,"v":0.4},{"x":22.3865,"y":1500,"v":0.4},{"x":22.3883,"y":1500,"v":-0.4},{"x":22.3901,"y":1500,"v":1.1},{"x":22.3919,"y":1500,"v":2.6},{"x":22.3937,"y":1500,"v":1.1},{"x":22.3955,"y":1500,"v":0.4},{"x":22.3973,"y":1500,"v":1.1},{"x":22.3991,"y":1500,"v":1.1},{"x":22.4009,"y":1500,"v":1.9},
{"x":22.3217,"y":1333,"v":0.4},{"x":22.3235,"y":1333,"v":0.4},{"x":22.3253,"y":1333,"v":-0.4},{"x":22.3271,"y":1333,"v":-0.4},{"x":22.3289,"y":1333,"v":-0.4},{"x":22.3307,"y":1333,"v":-0.4},{"x":22.3325,"y":1333,"v":-1.1},{"x":22.3343,"y":1333,"v":-1.1},{"x":22.3361,"y":1333,"v":-1.1},{"x":22.3379,"y":1333,"v":-0.4},{"x":22.3397,"y":1333,"v":-0.4},{"x":22.3415,"y":1333,"v":-0.4},{"x":22.3433,"y":1333,"v":-0.4},{"x":22.3451,"y":1333,"v":-0.4},{"x":22.3469,"y":1333,"v":-0.4},{"x":22.3487,"y":1333,"v":-0.4},{"x":22.3505,"y":1333,"v":-0.4},{"x":22.3523,"y":1333,"v":-0.4},{"x":22.3541,"y":1333,"v":-0.4},{"x":22.3559,"y":1333,"v":-0.4},{"x":22.3577,"y":1333,"v":-0.4},{"x":22.3595,"y":1333,"v":-0.4},{"x":22.3613,"y":1333,"v":-0.4},{"x":22.3631,"y":1333,"v":0.4},{"x":22.3649,"y":1333,"v":1.1},{"x":22.3667,"y":1333,"v":1.9},{"x":22.3685,"y":1333,"v":2.6},{"x":22.3703,"y":1333,"v":3.4},{"x":22.3721,"y":1333,"v":3.4},{"x":22.3739,"y":1333,"v":3.4},{"x":22.3757,"y":1333,"v":2.6},{"x":22.3775,"y":1333,"v":1.9},{"x":22.3793,"y":1333,"v":1.1},{"x":22.3811,"y":1333,"v":1.1},{"x":22.3829,"y":1333,"v":0.4},{"x":22.3847,"y":1333,"v":0.4},{"x":22.3865,"y":1333,"v":-0.4},{"x":22.3883,"y":1333,"v":-1.1},{"x":22.3901,"y":1333,"v":-0.4},{"x":22.3919,"y":1333,"v":1.1},{"x":22.3937,"y":1333,"v":0.4},{"x":22.3955,"y":1333,"v":0.4},{"x":22.3973,"y":1333,"v":1.1},{"x":22.3991,"y":1333,"v":1.1},{"x":22.4009,"y":1333,"v":1.1},
{"x":22.3217,"y":1167,"v":0.4},{"x":22.3235,"y":1167,"v":0.4},{"x":22.3253,"y":1167,"v":-0.4},{"x":22.3271,"y":1167,"v":-0.4},{"x":22.3289,"y":1167,"v":-0.4},{"x":22.3307,"y":1167,"v":-0.4},{"x":22.3325,"y":1167,"v":-0.4},{"x":22.3343,"y":1167,"v":-0.4},{"x":22.3361,"y":1167,"v":-0.4},{"x":22.3379,"y":1167,"v":-0.4},{"x":22.3397,"y":1167,"v":-0.4},{"x":22.3415,"y":1167,"v":-0.4},{"x":22.3433,"y":1167,"v":-0.4},{"x":22.3451,"y":1167,"v":-0.4},{"x":22.3469,"y":1167,"v":-0.4},{"x":22.3487,"y":1167,"v":-0.4},{"x":22.3505,"y":1167,"v":-0.4},{"x":22.3523,"y":1167,"v":-0.4},{"x":22.3541,"y":1167,"v":-0.4},{"x":22.3559,"y":1167,"v":-0.4},{"x":22.3577,"y":1167,"v":-0.4},{"x":22.3595,"y":1167,"v":-0.4},{"x":22.3613,"y":1167,"v":-0.4},{"x":22.3631,"y":1167,"v":0.4},{"x":22.3649,"y":1167,"v":0.4},{"x":22.3667,"y":1167,"v":1.1},{"x":22.3685,"y":1167,"v":1.9},{"x":22.3703,"y":1167,"v":2.6},{"x":22.3721,"y":1167,"v":2.6},{"x":22.3739,"y":1167,"v":2.6},{"x":22.3757,"y":1167,"v":2.6},{"x":22.3775,"y":1167,"v":1.9},{"x":22.3793,"y":1167,"v":1.9},{"x":22.3811,"y":1167,"v":1.9},{"x":22.3829,"y":1167,"v":1.1},{"x":22.3847,"y":1167,"v":0.4},{"x":22.3865,"y":1167,"v":-1.1},{"x":22.3883,"y":1167,"v":-1.9},{"x":22.3901,"y":1167,"v":-0.4},{"x":22.3919,"y":1167,"v":-0.4},{"x":22.3937,"y":1167,"v":-0.4},{"x":22.3955,"y":1167,"v":-0.4},{"x":22.3973,"y":1167,"v":0.4},{"x":22.3991,"y":1167,"v":0.4},{"x":22.4009,"y":1167,"v":1.1},
{"x":22.3217,"y":1000,"v":0.4},{"x":22.3235,"y":1000,"v":0.4},{"x":22.3253,"y":1000,"v":0.4},{"x":22.3271,"y":1000,"v":0.4},{"x":22.3289,"y":1000,"v":-0.4},{"x":22.3307,"y":1000,"v":-0.4},{"x":22.3325,"y":1000,"v":-0.4},{"x":22.3343,"y":1000,"v":-0.4},{"x":22.3361,"y":1000,"v":-0.4},{"x":22.3379,"y":1000,"v":-0.4},{"x":22.3397,"y":1000,"v":-0.4},{"x":22.3415,"y":1000,"v":-0.4},{"x":22.3433,"y":1000,"v":-0.4},{"x":22.3451,"y":1000,"v":0.4},{"x":22.3469,"y":1000,"v":-0.4},{"x":22.3487,"y":1000,"v":-0.4},{"x":22.3505,"y":1000,"v":-0.4},{"x":22.3523,"y":1000,"v":-0.4},{"x":22.3541,"y":1000,"v":-0.4},{"x":22.3559,"y":1000,"v":-0.4},{"x":22.3577,"y":1000,"v":-0.4},{"x":22.3595,"y":1000,"v":-0.4},{"x":22.3613,"y":1000,"v":-0.4},{"x":22.3631,"y":1000,"v":0.4},{"x":22.3649,"y":1000,"v":0.4},{"x":22.3667,"y":1000,"v":1.1},{"x":22.3685,"y":1000,"v":1.1},{"x":22.3703,"y":1000,"v":1.9},{"x":22.3721,"y":1000,"v":2.6},{"x":22.3739,"y":1000,"v":2.6},{"x":22.3757,"y":1000,"v":1.9},{"x":22.3775,"y":1000,"v":1.9},{"x":22.3793,"y":1000,"v":1.9},{"x":22.3811,"y":1000,"v":1.9},{"x":22.3829,"y":1000,"v":1.9},{"x":22.3847,"y":1000,"v":1.1},{"x":22.3865,"y":1000,"v":-0.4},{"x":22.3883,"y":1000,"v":-1.9},{"x":22.3901,"y":1000,"v":-2.6},{"x":22.3919,"y":1000,"v":-1.9},{"x":22.3937,"y":1000,"v":-1.9},{"x":22.3955,"y":1000,"v":-1.1},{"x":22.3973,"y":1000,"v":-0.4},{"x":22.3991,"y":1000,"v":0.4},{"x":22.4009,"y":1000,"v":0.4},
{"x":22.3217,"y":833,"v":0.4},{"x":22.3235,"y":833,"v":0.4},{"x":22.3253,"y":833,"v":0.4},{"x":22.3271,"y":833,"v":0.4},{"x":22.3289,"y":833,"v":0.4},{"x":22.3307,"y":833,"v":0.4},{"x":22.3325,"y":833,"v":-0.4},{"x":22.3343,"y":833,"v":-0.4},{"x":22.3361,"y":833,"v":-0.4},{"x":22.3379,"y":833,"v":-0.4},{"x":22.3397,"y":833,"v":-0.4},{"x":22.3415,"y":833,"v":-0.4},{"x":22.3433,"y":833,"v":0.4},{"x":22.3451,"y":833,"v":0.4},{"x":22.3469,"y":833,"v":-0.4},{"x":22.3487,"y":833,"v":-0.4},{"x":22.3505,"y":833,"v":-0.4},{"x":22.3523,"y":833,"v":-0.4},{"x":22.3541,"y":833,"v":-0.4},{"x":22.3559,"y":833,"v":-0.4},{"x":22.3577,"y":833,"v":-0.4},{"x":22.3595,"y":833,"v":0.4},{"x":22.3613,"y":833,"v":0.4},{"x":22.3631,"y":833,"v":0.4},{"x":22.3649,"y":833,"v":0.4},{"x":22.3667,"y":833,"v":1.1},{"x":22.3685,"y":833,"v":1.1},{"x":22.3703,"y":833,"v":1.1},{"x":22.3721,"y":833,"v":1.9},{"x":22.3739,"y":833,"v":1.9},{"x":22.3757,"y":833,"v":1.9},{"x":22.3775,"y":833,"v":1.9},{"x":22.3793,"y":833,"v":1.9},{"x":22.3811,"y":833,"v":1.9},{"x":22.3829,"y":833,"v":1.9},{"x":22.3847,"y":833,"v":1.1},{"x":22.3865,"y":833,"v":-0.4},{"x":22.3883,"y":833,"v":-1.9},{"x":22.3901,"y":833,"v":-3.4},{"x":22.3919,"y":833,"v":-3.4},{"x":22.3937,"y":833,"v":-2.6},{"x":22.3955,"y":833,"v":-2.6},{"x":22.3973,"y":833,"v":-1.9},{"x":22.3991,"y":833,"v":-1.1},{"x":22.4009,"y":833,"v":-1.1},
{"x":22.3217,"y":667,"v":0.4},{"x":22.3235,"y":667,"v":0.4},{"x":22.3253,"y":667,"v":0.4},{"x":22.3271,"y":667,"v":0.4},{"x":22.3289,"y":667,"v":0.4},{"x":22.3307,"y":667,"v":0.4},{"x":22.3325,"y":667,"v":0.4},{"x":22.3343,"y":667,"v":0.4},{"x":22.3361,"y":667,"v":-0.4},{"x":22.3379,"y":667,"v":-0.4},{"x":22.3397,"y":667,"v":-0.4},{"x":22.3415,"y":667,"v":0.4},{"x":22.3433,"y":667,"v":0.4},{"x":22.3451,"y":667,"v":0.4},{"x":22.3469,"y":667,"v":-0.4},{"x":22.3487,"y":667,"v":-0.4},{"x":22.3505,"y":667,"v":-0.4},{"x":22.3523,"y":667,"v":-0.4},{"x":22.3541,"y":667,"v":-0.4},{"x":22.3559,"y":667,"v":-0.4},{"x":22.3577,"y":667,"v":0.4},{"x":22.3595,"y":667,"v":0.4},{"x":22.3613,"y":667,"v":0.4},{"x":22.3631,"y":667,"v":0.4},{"x":22.3649,"y":667,"v":0.4},{"x":22.3667,"y":667,"v":0.4},{"x":22.3685,"y":667,"v":1.1},{"x":22.3703,"y":667,"v":1.1},{"x":22.3721,"y":667,"v":1.9},{"x":22.3739,"y":667,"v":1.9},{"x":22.3757,"y":667,"v":1.9},{"x":22.3775,"y":667,"v":1.9},{"x":22.3793,"y":667,"v":1.9},{"x":22.3811,"y":667,"v":1.9},{"x":22.3829,"y":667,"v":1.9},{"x":22.3847,"y":667,"v":1.1},{"x":22.3865,"y":667,"v":-0.4},{"x":22.3883,"y":667,"v":-1.9},{"x":22.3901,"y":667,"v":-2.6},{"x":22.3919,"y":667,"v":-3.4},{"x":22.3937,"y":667,"v":-2.6},{"x":22.3955,"y":667,"v":-2.6},{"x":22.3973,"y":667,"v":-2.6},{"x":22.3991,"y":667,"v":-1.9},{"x":22.4009,"y":667,"v":-1.1},
{"x":22.3217,"y":500,"v":0.4},{"x":22.3235,"y":500,"v":0.4},{"x":22.3253,"y":500,"v":0.4},{"x":22.3271,"y":500,"v":0.4},{"x":22.3289,"y":500,"v":0.4},{"x":22.3307,"y":500,"v":0.4},{"x":22.3325,"y":500,"v":0.4},{"x":22.3343,"y":500,"v":0.4},{"x":22.3361,"y":500,"v":-0.4},{"x":22.3379,"y":500,"v":-0.4},{"x":22.3397,"y":500,"v":-0.4},{"x":22.3415,"y":500,"v":-0.4},{"x":22.3433,"y":500,"v":0.4},{"x":22.3451,"y":500,"v":0.4},{"x":22.3469,"y":500,"v":-0.4},{"x":22.3487,"y":500,"v":-0.4},{"x":22.3505,"y":500,"v":-0.4},{"x":22.3523,"y":500,"v":-0.4},{"x":22.3541,"y":500,"v":-0.4},{"x":22.3559,"y":500,"v":0.4},{"x":22.3577,"y":500,"v":0.4},{"x":22.3595,"y":500,"v":0.4},{"x":22.3613,"y":500,"v":0.4},{"x":22.3631,"y":500,"v":0.4},{"x":22.3649,"y":500,"v":0.4},{"x":22.3667,"y":500,"v":0.4},{"x":22.3685,"y":500,"v":0.4},{"x":22.3703,"y":500,"v":1.1},{"x":22.3721,"y":500,"v":1.1},{"x":22.3739,"y":500,"v":1.9},{"x":22.3757,"y":500,"v":1.9},{"x":22.3775,"y":500,"v":1.9},{"x":22.3793,"y":500,"v":1.9},{"x":22.3811,"y":500,"v":1.1},{"x":22.3829,"y":500,"v":1.1},{"x":22.3847,"y":500,"v":0.4},{"x":22.3865,"y":500,"v":-0.4},{"x":22.3883,"y":500,"v":-0.4},{"x":22.3901,"y":500,"v":-1.9},{"x":22.3919,"y":500,"v":-2.6},{"x":22.3937,"y":500,"v":-2.6},{"x":22.3955,"y":500,"v":-1.9},{"x":22.3973,"y":500,"v":-1.9},{"x":22.3991,"y":500,"v":-2.6},{"x":22.4009,"y":500,"v":-2.6},
{"x":22.3217,"y":333,"v":0.4},{"x":22.3235,"y":333,"v":0.4},{"x":22.3253,"y":333,"v":0.4},{"x":22.3271,"y":333,"v":0.4},{"x":22.3289,"y":333,"v":0.4},{"x":22.3307,"y":333,"v":0.4},{"x":22.3325,"y":333,"v":0.4},{"x":22.3343,"y":333,"v":-0.4},{"x":22.3361,"y":333,"v":-0.4},{"x":22.3379,"y":333,"v":-0.4},{"x":22.3397,"y":333,"v":-0.4},{"x":22.3415,"y":333,"v":-0.4},{"x":22.3433,"y":333,"v":-0.4},{"x":22.3451,"y":333,"v":-0.4},{"x":22.3469,"y":333,"v":-0.4},{"x":22.3487,"y":333,"v":-0.4},{"x":22.3505,"y":333,"v":-0.4},{"x":22.3523,"y":333,"v":-0.4},{"x":22.3541,"y":333,"v":0.4},{"x":22.3559,"y":333,"v":0.4},{"x":22.3577,"y":333,"v":0.4},{"x":22.3595,"y":333,"v":0.4},{"x":22.3613,"y":333,"v":0.4},{"x":22.3631,"y":333,"v":0.4},{"x":22.3649,"y":333,"v":-0.4},{"x":22.3667,"y":333,"v":0.4},{"x":22.3685,"y":333,"v":0.4},{"x":22.3703,"y":333,"v":0.4},{"x":22.3721,"y":333,"v":1.1},{"x":22.3739,"y":333,"v":2.6},{"x":22.3757,"y":333,"v":1.9},{"x":22.3775,"y":333,"v":0.4},{"x":22.3919,"y":333,"v":-0.4},{"x":22.4009,"y":333,"v":-1.9},
{"x":22.3217,"y":167,"v":-0.4},{"x":22.3235,"y":167,"v":-0.4},{"x":22.3253,"y":167,"v":0.4},{"x":22.3271,"y":167,"v":0.4},{"x":22.3289,"y":167,"v":0.4},{"x":22.3307,"y":167,"v":0.4},{"x":22.3325,"y":167,"v":0.4},{"x":22.3343,"y":167,"v":-0.4},{"x":22.3361,"y":167,"v":-0.4},{"x":22.3379,"y":167,"v":-0.4},{"x":22.3397,"y":167,"v":-0.4},{"x":22.3415,"y":167,"v":-0.4},{"x":22.3433,"y":167,"v":-0.4},{"x":22.3451,"y":167,"v":-0.4},{"x":22.3469,"y":167,"v":-0.4},{"x":22.3487,"y":167,"v":-0.4},{"x":22.3505,"y":167,"v":-0.4},{"x":22.3523,"y":167,"v":-0.4},{"x":22.3541,"y":167,"v":0.4},{"x":22.3559,"y":167,"v":0.4},{"x":22.3577,"y":167,"v":0.4},{"x":22.3595,"y":167,"v":1.1},{"x":22.3613,"y":167,"v":0.4},{"x":22.3631,"y":167,"v":0.4},{"x":22.3649,"y":167,"v":0.4},{"x":22.3667,"y":167,"v":0.4},{"x":22.3685,"y":167,"v":0.4},{"x":22.3703,"y":167,"v":0.4},{"x":22.3721,"y":167,"v":1.1},{"x":22.3739,"y":167,"v":1.1},
{"x":22.3217,"y":0,"v":-0.4},{"x":22.3235,"y":0,"v":-0.4},{"x":22.3253,"y":0,"v":0.4},{"x":22.3271,"y":0,"v":0.4},{"x":22.3289,"y":0,"v":0.4},{"x":22.3307,"y":0,"v":0.4},{"x":22.3325,"y":0,"v":0.4},{"x":22.3343,"y":0,"v":-0.4},{"x":22.3361,"y":0,"v":-0.4},{"x":22.3379,"y":0,"v":-0.4},{"x":22.3397,"y":0,"v":-0.4},{"x":22.3415,"y":0,"v":-0.4},{"x":22.3433,"y":0,"v":-0.4},{"x":22.3451,"y":0,"v":-0.4},{"x":22.3469,"y":0,"v":-0.4},{"x":22.3487,"y":0,"v":-0.4},{"x":22.3505,"y":0,"v":-0.4},{"x":22.3523,"y":0,"v":-0.4},{"x":22.3541,"y":0,"v":0.4},{"x":22.3559,"y":0,"v":0.4},{"x":22.3577,"y":0,"v":0.4},{"x":22.3595,"y":0,"v":0.4},{"x":22.3613,"y":0,"v":0.4},{"x":22.3631,"y":0,"v":0.4},{"x":22.3649,"y":0,"v":0.4},{"x":22.3667,"y":0,"v":0.4},{"x":22.3685,"y":0,"v":0.4},{"x":22.3703,"y":0,"v":0.4},{"x":22.3721,"y":0,"v":0.4},{"x":22.3739,"y":0,"v":0.4}
]},
"mark":{"type":"rect","width":11.5,"height":6.9,"clip":true},
"encoding":{"x":{"field":"x","type":"quantitative","scale":{"domain":[22.3217,22.4009],"nice":false,"zero":false},"axis":{"values":[22.325,22.33,22.335,22.34,22.345,22.35,22.355,22.36,22.365,22.37,22.375,22.38,22.385,22.39,22.395,22.4],"format":".3f","labelExpr":"(round(datum.value*1000)%20==0)?datum.label:''","tickSize":{"condition":{"test":"round(datum.value*1000)%20==0","value":-12},"value":6},"title":"Latitude (°)","titleY":39,"titleBaseline":"alphabetic","labelPadding":25,"labelOverlap":false}},
"y":{"field":"y","type":"quantitative","scale":{"domain":[0,5000],"nice":false},"axis":{"values":[0,250,500,750,1000,1250,1500,1750,2000,2250,2500,2750,3000,3250,3500,3750,4000,4250,4500,4750,5000],"format":"d","labelOverlap":false,"labelBound":false,"tickSize":-11,"labelPadding":18,"title":"Height (m)","titlePadding":12}},
"color":{"field":"v","type":"quantitative","scale":{"type":"threshold","domain":[-6,-5.25,-4.5,-3.75,-3,-2.25,-1.5,-0.75,0,0.75,1.5,2.25,3,3.75,4.5,5.25,6],"range":["#3f2183","#3a1f7f","#3f4595","#4e6db5","#7099d8","#94c8ef","#b4d7ec","#cfe4ec","#eef6fb","#fffbe6","#fdeeba","#f5cf96","#e6a570","#d8714e","#cf4036","#c82a2e","#be1c2e","#960f24"]},
"legend":{"type":"gradient","orient":"none","legendX":0,"legendY":255,"direction":"horizontal","gradientLength":501,"gradientThickness":18,"title":"(m/s)","titleOrient":"bottom","titleAnchor":"middle","titleFont":"Liberation Serif","titleFontSize":10,"titleFontWeight":"normal","titleColor":"#444","titlePadding":8,"labelOffset":8,"gradientStrokeColor":"#444","gradientStrokeWidth":1,"labelFont":"Liberation Serif","labelFontSize":10,"labelColor":"#444","labelExpr":"datum.label?replace(datum.label,'-','−'):''"}}}},
{"data":{"values":[{"a":22.3545,"b":22.3747,"h0":50,"h1":4207}]},
"mark":{"type":"rect","fillOpacity":0,"stroke":"#000","strokeWidth":5,"strokeDash":[5,5.8]},
"encoding":{"x":{"field":"a","type":"quantitative","axis":{"orient":"top","values":[22.325,22.33,22.335,22.34,22.345,22.35,22.355,22.36,22.365,22.37,22.375,22.38,22.385,22.39,22.395,22.4],"labels":false,"title":null,"tickSize":{"condition":{"test":"round(datum.value*1000)%20==0","value":-12},"value":6}}},"x2":{"field":"b"},"y":{"field":"h0","type":"quantitative","axis":{"orient":"right","values":[0,250,500,750,1000,1250,1500,1750,2000,2250,2500,2750,3000,3250,3500,3750,4000,4250,4500,4750,5000],"labels":false,"title":null,"tickSize":-11}},"y2":{"field":"h1"}}}
],
"resolve":{"axis":{"x":"independent","y":"independent"}}}
